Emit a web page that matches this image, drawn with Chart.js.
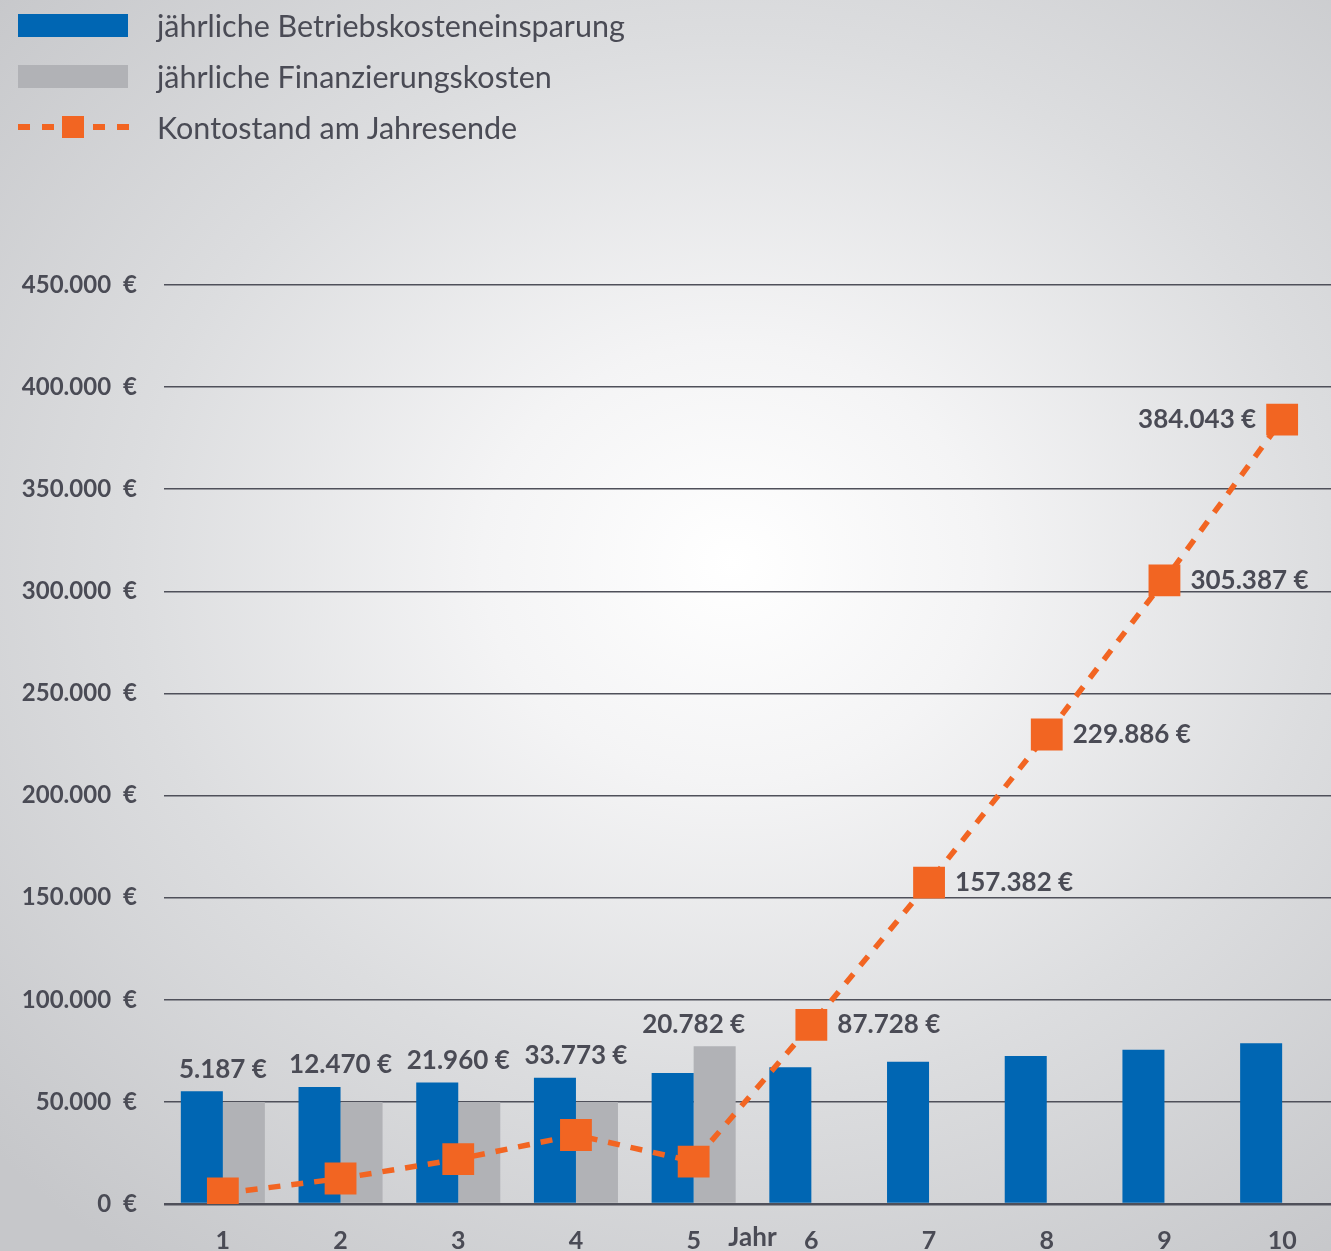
<!DOCTYPE html>
<html>
<head>
<meta charset="utf-8">
<script src="https://cdn.jsdelivr.net/npm/chart.js@4/dist/chart.umd.min.js"></script>
<style>
html, body { margin: 0; padding: 0; width: 1331px; height: 1251px; overflow: hidden; }
body {
  position: relative;
  font-family: Lato, "Open Sans", sans-serif;
  background: radial-gradient(ellipse 75% 70% at 55% 45%, #ffffff 0%, #f4f4f5 25%, #dcdddf 60%, #c6c7ca 100%);
}
#legend { position: absolute; left: 0; top: 0; z-index: 2; }
.row { position: absolute; left: 0; height: 40px; width: 700px; }
.row span { position: absolute; left: 157px; top: 0; line-height: 40px; font-size: 30.5px; color: #4a4b55; white-space: nowrap; }
.box { position: absolute; left: 18px; width: 110px; height: 23px; top: 9px; }
.dash { position: absolute; top: 17px; height: 6px; width: 12px; background: #f26522; }
.sq { position: absolute; left: 62px; top: 9px; width: 22px; height: 22px; background: #f26522; }
#wrap { position: absolute; left: 0; top: 0; width: 1342px; height: 1251px; }
</style>
</head>
<body>
<div id="legend">
  <div class="row" style="top:5px"><div class="box" style="background:#0066b3"></div><span>jährliche Betriebskosteneinsparung</span></div>
  <div class="row" style="top:56px"><div class="box" style="background:#b1b2b6"></div><span>jährliche Finanzierungskosten</span></div>
  <div class="row" style="top:107px">
    <div class="dash" style="left:18px"></div><div class="dash" style="left:42px"></div>
    <div class="sq"></div>
    <div class="dash" style="left:93px"></div><div class="dash" style="left:117px"></div>
    <span>Kontostand am Jahresende</span>
  </div>
</div>
<div id="wrap"><canvas id="chart" width="1342" height="1251"></canvas></div>
<script>
// Daten
var jahre = ['1', '2', '3', '4', '5', '6', '7', '8', '9', '10'];
var einsparung = [55187, 57283, 59490, 61813, 64200, 66946, 69654, 72504, 75501, 78656];
var finanzierung = [50000, 50000, 50000, 50000, 77191, null, null, null, null, null];
var kontostand = [5187, 12470, 21960, 33773, 20782, 87728, 157382, 229886, 305387, 384043];
var yTicks = [0, 50000, 100000, 150000, 200000, 250000, 300000, 350000, 400000, 450000];

var blau = '#0066b3';
var grau = '#b1b2b6';
var orange = '#f26522';
var textFarbe = '#4a4b55';
var fontName = 'Lato';

function euro(v, sep) {
  return String(v).replace(/\B(?=(\d{3})+(?!\d))/g, '.') + (sep || ' ') + '€';
}

// Beschriftungen am Kontostand + "Jahr"
var labelPlugin = {
  id: 'kontoLabels',
  afterDatasetsDraw: function(chart) {
    var ctx = chart.ctx;
    var xs = chart.scales.x;
    var ys = chart.scales.y;
    ctx.save();
    ctx.font = 'bold 26px ' + fontName;
    ctx.fillStyle = textFarbe;
    ctx.textBaseline = 'middle';
    for (var i = 0; i < jahre.length; i++) {
      var v = kontostand[i];
      var px = xs.getPixelForValue(i);
      if (i < 5) {
        var top = Math.max(einsparung[i], finanzierung[i] || 0);
        ctx.textAlign = 'center';
        ctx.fillText(euro(v), px, ys.getPixelForValue(top) - 22);
      } else if (i < jahre.length - 1) {
        ctx.textAlign = 'left';
        ctx.fillText(euro(v), px + 26, ys.getPixelForValue(v));
      } else {
        ctx.textAlign = 'right';
        ctx.fillText(euro(v), px - 26, ys.getPixelForValue(v));
      }
    }
    // Achsentitel "Jahr" zwischen 5 und 6
    ctx.textAlign = 'center';
    var jx = (xs.getPixelForValue(4) + xs.getPixelForValue(5)) / 2;
    ctx.fillText('Jahr', jx, chart.chartArea.bottom + 34);
    ctx.restore();
  }
};

var ctx = document.getElementById('chart').getContext('2d');
var myChart = new Chart(ctx, {
  type: 'bar',
  data: {
    labels: jahre,
    datasets: [{
      type: 'line',
      label: 'Kontostand am Jahresende',
      data: kontostand,
      borderColor: orange,
      backgroundColor: orange,
      borderWidth: 5.5,
      borderDash: [12, 11],
      pointStyle: 'rect',
      pointRadius: 22.5,
      pointBorderWidth: 0,
      pointBackgroundColor: orange,
      tension: 0,
      order: 0
    }, {
      label: 'jährliche Betriebskosteneinsparung',
      data: einsparung,
      backgroundColor: blau,
      barPercentage: 1,
      categoryPercentage: 0.714,
      order: 1
    }, {
      label: 'jährliche Finanzierungskosten',
      data: finanzierung,
      backgroundColor: grau,
      barPercentage: 1,
      categoryPercentage: 0.714,
      order: 2
    }]
  },
  options: {
    responsive: false,
    animation: false,
    layout: { autoPadding: false, padding: { top: 285, right: 1, left: 0, bottom: 0 } },
    plugins: {
      legend: { display: false },
      tooltip: { enabled: false }
    },
    scales: {
      x: {
        grid: { display: false, drawTicks: false },
        border: { display: false },
        ticks: {
          color: textFarbe,
          font: { family: fontName, size: 25, weight: 'bold' },
          padding: 22,
          maxRotation: 0
        },
        afterFit: function(scale) { scale.height = 47; }
      },
      y: {
        min: 0,
        max: 450000,
        afterBuildTicks: function(scale) {
          scale.ticks = yTicks.map(function(v) { return { value: v }; });
        },
        grid: {
          color: '#4f505a',
          lineWidth: function(c) { return c.tick && c.tick.value === 0 ? 2.5 : 1.5; },
          drawTicks: false
        },
        border: { display: false },
        ticks: {
          color: textFarbe,
          font: { family: fontName, size: 24, weight: 'bold' },
          padding: 27,
          callback: function(v) { return euro(v, '\u2002'); }
        },
        afterFit: function(scale) { scale.width = 164; }
      }
    }
  },
  plugins: [labelPlugin]
});
</script>
</body>
</html>
